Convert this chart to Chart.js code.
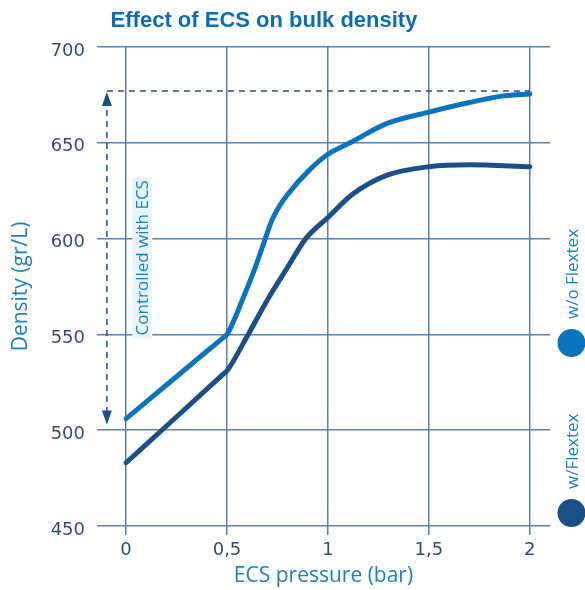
<!DOCTYPE html>
<html>
<head>
<meta charset="utf-8">
<script src="https://cdn.jsdelivr.net/npm/chart.js@4"></script>
<style>
  html, body { margin: 0; padding: 0; background: #fff; }
  #wrap { width: 585px; height: 590px; }
</style>
</head>
<body>
<div id="wrap"><canvas id="myChart" width="585" height="590"></canvas></div>
<script>
// pressure (bar) and density (gr/L)
const woFlextexX = [0, 0.2, 0.4, 0.48, 0.5, 0.58, 0.64, 0.69, 0.72, 0.76, 0.8, 0.91, 1.0, 1.11, 1.29, 1.5, 1.7, 1.87, 2.0];
const woFlextexY = [506, 523.6, 541.2, 548.2, 550, 569, 585, 600, 609, 617, 623, 636, 644, 650, 660, 666, 671, 674.5, 675.5];

const wFlextexX = [0, 0.2, 0.4, 0.48, 0.5, 0.6, 0.7, 0.8, 0.89, 1.0, 1.12, 1.29, 1.5, 1.7, 2.0];
const wFlextexY = [483, 502.2, 521.4, 529.1, 531, 549, 568, 585, 600, 611, 623, 633, 637.5, 638.5, 637.5];

const xTicks = [0, 0.5, 1, 1.5, 2];
const xTickLabels = ['0', '0,5', '1', '1,5', '2'];
const yTicks = [450, 500, 550, 600, 650, 700];

// range marked by the dashed arrow
const controlTop = 677;
const controlBottom = 503;

const LIGHT = '#0a74bc';
const DARK = '#1c4f88';
const GRID = '#5e7da7';
const TICK = '#2b4d7e';
const LABEL = '#1a7fc1';
const TICKFONT = '"DejaVu Sans", sans-serif';
const FONT = '"Open Sans", sans-serif';

const toPoints = (xs, ys) => xs.map((x, i) => ({ x: x, y: ys[i] }));

const extras = {
  id: 'extras',
  afterDraw(chart) {
    const c = chart.ctx;
    const xs = chart.scales.x, ys = chart.scales.y;

    // title
    c.save();
    c.fillStyle = '#0b6db4';
    c.font = 'bold 22px "Liberation Sans", Arial, sans-serif';
    c.textAlign = 'center';
    c.textBaseline = 'middle';
    c.fillText('Effect of ECS on bulk density', 264, 21);
    c.restore();

    // dashed arrow
    const ax = xs.getPixelForValue(-0.095);
    const top = ys.getPixelForValue(controlTop);
    const bot = ys.getPixelForValue(controlBottom);
    c.save();
    c.strokeStyle = DARK;
    c.fillStyle = DARK;
    c.lineWidth = 1.5;
    c.setLineDash([6, 5]);
    c.beginPath();
    c.moveTo(ax, top);
    c.lineTo(xs.getPixelForValue(2), top);
    c.moveTo(ax, top + 8);
    c.lineTo(ax, bot - 8);
    c.stroke();
    c.setLineDash([]);
    c.beginPath();
    c.moveTo(ax, top + 1);
    c.lineTo(ax - 5, top + 15);
    c.lineTo(ax + 5, top + 15);
    c.closePath();
    c.fill();
    c.beginPath();
    c.moveTo(ax, bot);
    c.lineTo(ax - 5, bot - 14);
    c.lineTo(ax + 5, bot - 14);
    c.closePath();
    c.fill();
    c.restore();

    // label on arrow
    const lx = xs.getPixelForValue(0.08);
    const ly = ys.getPixelForValue(590);
    c.save();
    c.translate(lx, ly);
    c.rotate(-Math.PI / 2);
    c.font = '17px ' + FONT;
    const tw = c.measureText('Controlled with ECS').width;
    c.fillStyle = '#e9f5fd';
    c.fillRect(-tw / 2 - 3, -10, tw + 6, 20);
    c.fillStyle = LABEL;
    c.textAlign = 'center';
    c.textBaseline = 'middle';
    c.fillText('Controlled with ECS', 0, 1);
    c.restore();

    // legend on right
    const items = [
      { text: 'w/o Flextex', color: LIGHT, cy: 343 },
      { text: 'w/Flextex', color: DARK, cy: 513 }
    ];
    items.forEach(it => {
      c.save();
      c.fillStyle = it.color;
      c.beginPath();
      c.arc(571.5, it.cy, 14, 0, Math.PI * 2);
      c.fill();
      c.translate(578, it.cy - 24);
      c.rotate(-Math.PI / 2);
      c.font = '17px ' + FONT;
      c.fillStyle = LABEL;
      c.textAlign = 'left';
      c.textBaseline = 'alphabetic';
      c.fillText(it.text, 0, 0);
      c.restore();
    });
  }
};

var ctx = document.getElementById('myChart').getContext('2d');
var myChart = new Chart(ctx, {
  type: 'scatter',
  data: {
    datasets: [
      {
        label: 'w/o Flextex',
        data: toPoints(woFlextexX, woFlextexY),
        showLine: true,
        borderColor: LIGHT,
        borderWidth: 5,
        pointRadius: 0,
        borderCapStyle: 'round',
        cubicInterpolationMode: 'monotone'
      },
      {
        label: 'w/Flextex',
        data: toPoints(wFlextexX, wFlextexY),
        showLine: true,
        borderColor: DARK,
        borderWidth: 5,
        pointRadius: 0,
        borderCapStyle: 'round',
        cubicInterpolationMode: 'monotone'
      }
    ]
  },
  options: {
    responsive: false,
    animation: false,
    layout: { padding: { top: 47, right: 35, left: 8, bottom: 0 } },
    plugins: {
      legend: { display: false },
      tooltip: { enabled: false }
    },
    scales: {
      x: {
        type: 'linear',
        min: -0.144,
        max: 2.1,
        afterBuildTicks: s => { s.ticks = xTicks.map(v => ({ value: v })); },
        afterFit: s => { s.height = 64; },
        grid: { color: GRID, lineWidth: 1.5, tickLength: 9 },
        border: { display: false },
        ticks: {
          color: TICK,
          font: { family: TICKFONT, size: 18 },
          padding: 5,
          maxRotation: 0,
          callback: (v) => xTickLabels[xTicks.indexOf(v)]
        },
        title: {
          display: true,
          text: 'ECS pressure (bar)',
          color: LABEL,
          font: { family: FONT, size: 21 },
          padding: { top: 0, bottom: 1 }
        }
      },
      y: {
        min: 450,
        max: 700,
        afterBuildTicks: s => { s.ticks = yTicks.map(v => ({ value: v })); },
        afterFit: s => { s.width = 89; },
        grid: { color: GRID, lineWidth: 1.5, drawTicks: false },
        border: { display: false },
        ticks: {
          color: TICK,
          font: { family: TICKFONT, size: 18 },
          padding: 12,
          labelOffset: 4
        },
        title: {
          display: true,
          text: 'Density (gr/L)',
          color: LABEL,
          font: { family: FONT, size: 21 },
          padding: { top: 0, bottom: 0 }
        }
      }
    }
  },
  plugins: [extras]
});
</script>
</body>
</html>
